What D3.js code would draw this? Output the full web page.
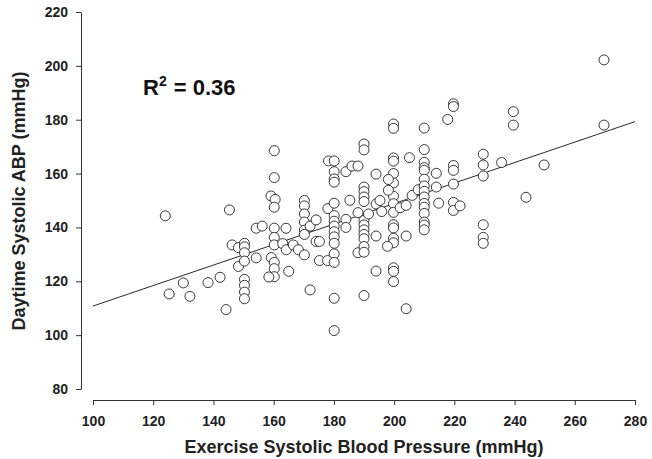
<!DOCTYPE html>
<html>
<head>
<meta charset="utf-8">
<script src="https://cdn.jsdelivr.net/npm/d3@7"></script>
<style>
  body { margin: 0; background: #fff; }
  svg { display: block; }
  .axis text { font-family: 'Liberation Sans', Arial, sans-serif; font-weight: bold; font-size: 14px; fill: #222; }
  .axis path, .axis line { stroke: #333; stroke-width: 1; }
</style>
</head>
<body>
<div id="chart"></div>
<script>
// exercise SBP (x) and daytime systolic ABP (y)
const exerciseSBP = [
  124, 125.3, 130, 132.2, 138.2, 142.2, 144.2, 145.3, 146.2, 148.3, 148.3,
  150.3, 150.3, 150.3, 150.3, 150.3, 150.3, 150.3, 150.3,
  154.2, 156.2, 154.2, 159.1, 160.5, 160.2, 160.2, 160.2, 160.2, 160.2, 160.2,
  159.2, 160.2, 160.2, 160.2, 158.4,
  163, 164.1, 164.2, 166.5, 168.2, 165,
  170.2, 170.2, 170.2, 170.2, 170.2, 170.2, 170.2,
  172.1, 174.1, 172.1, 174.1, 175.2, 175.2, 177.9, 178.2, 178,
  180.1, 180.1, 180.1, 180.1, 180.1, 180.1, 180.1, 180.1, 180.1, 180.1, 180.1,
  180.1, 180.1, 180.1, 180.1,
  184, 186, 188, 184, 184, 185.3, 188, 188,
  190, 190, 190, 190, 190, 190, 190, 190, 190, 190, 190, 190, 190, 190,
  191.5, 194, 194, 195.3, 195.9, 194, 194,
  199.8, 199.8, 199.8, 199.8, 199.8, 199.8, 199.8, 199.8, 199.8, 199.8, 199.8,
  199.8, 199.8, 199.8, 199.8, 199.8,
  198.1, 198.1, 197.8,
  202, 204, 205.1, 204, 204, 206, 208,
  210, 210, 210, 210, 210, 210, 210, 210, 210, 210, 210, 210, 210, 210, 210,
  214, 214, 214.8, 219.7, 219.7, 219.7, 219.7, 219.7, 221.9, 219.7, 219.7, 217.8,
  229.6, 229.6, 229.6, 229.6, 229.6, 229.6,
  235.7, 239.6, 239.6, 243.8, 249.8, 269.7, 269.7
]
const daytimeSBP = [
  144.3, 115.3, 119.4, 114.4, 119.5, 121.5, 109.5, 146.5, 133.5, 132.5, 125.5,
  134.1, 132.8, 130.6, 127.5, 120.7, 118.5, 116, 113.5,
  139.7, 140.5, 128.7, 151.7, 150.4, 147.5, 168.5, 158.5, 139.7, 136.3, 133.5,
  128.8, 127, 124.7, 121.7, 121.6,
  134, 139.7, 131.7, 133.5, 131.7, 123.7,
  150, 148, 145, 142, 139, 137.4, 129.8,
  140.5, 142.8, 116.8, 134.8, 134.8, 127.7, 127.7, 164.7, 147,
  164.7, 160.7, 158, 156.8, 149, 144.4, 142.3, 140.5, 138.4, 136.5, 134.1,
  130.2, 127, 113.7, 101.7,
  160.7, 162.8, 162.8, 143, 140, 150.1, 145.5, 130.6,
  171, 168.8, 155, 153.3, 151.3, 149.6, 142.6, 140.9, 139.1, 137.4, 135.8, 132.9, 130.8, 114.7,
  145, 159.8, 148.7, 150, 145.9, 136.8, 123.8,
  178.4, 176.8, 165.8, 164.6, 160, 156.5, 151.6, 148.8, 145.6, 141, 139.8,
  136, 134.3, 125, 123.7, 119.9,
  157.8, 153.8, 133,
  147.3, 148.2, 165.9, 136.8, 109.8, 151.9, 154,
  176.9, 168.9, 164.2, 162.2, 161.2, 157.9, 155.4, 153.4, 151.3, 148.9, 147.5, 145.2, 142, 140.9, 139.1,
  160.1, 155, 149, 163, 161.2, 156.1, 149.3, 146.3, 148, 185.9, 184.9, 180.1,
  167.2, 163.2, 159.1, 141, 136.3, 134.1,
  164.1, 183, 178, 151.2, 163.2, 202.2, 178
]

// regression line end points
const fitX = [100, 280]
const fitY = [110.8, 179.3]

const xTicks = [100, 120, 140, 160, 180, 200, 220, 240, 260, 280]
const yTicks = [80, 100, 120, 140, 160, 180, 200, 220]

const width = 652
const height = 459

const x = d3.scaleLinear().domain([100, 280]).range([93, 635])
const y = d3.scaleLinear().domain([80, 220]).range([389, 12])

const svg = d3.select('#chart')
  .append('svg')
  .attr('width', width)
  .attr('height', height)

// axes (offset like SigmaPlot)
svg.append('g')
  .attr('class', 'axis')
  .attr('transform', 'translate(0,400)')
  .call(d3.axisBottom(x).tickValues(xTicks).tickSize(5).tickSizeOuter(0).tickPadding(11))

svg.append('g')
  .attr('class', 'axis')
  .attr('transform', 'translate(81,0)')
  .call(d3.axisLeft(y).tickValues(yTicks).tickSize(5).tickSizeOuter(0).tickPadding(8))

// fitted line
svg.append('line')
  .attr('x1', x(fitX[0]))
  .attr('y1', y(fitY[0]))
  .attr('x2', x(fitX[1]))
  .attr('y2', y(fitY[1]))
  .attr('stroke', '#111')
  .attr('stroke-width', 0.9)

const points = exerciseSBP.map((d, i) => ({ ex: d, day: daytimeSBP[i] }))

svg.selectAll('.dot')
  .data(points)
  .enter()
  .append('circle')
  .attr('class', 'dot')
  .attr('cx', d => x(d.ex))
  .attr('cy', d => y(d.day))
  .attr('r', 5)
  .attr('fill', '#fff')
  .attr('stroke', '#222')
  .attr('stroke-width', 0.9)

// R squared
const r2 = svg.append('text')
  .attr('x', 143)
  .attr('y', 95)
  .attr('font-family', "'Liberation Sans', Arial, sans-serif")
  .attr('font-weight', 'bold')
  .attr('font-size', 22)
  .attr('fill', '#111')
  .attr('xml:space', 'preserve')
  .style('white-space', 'pre')
r2.append('tspan').text('R')
r2.append('tspan').attr('font-size', 14).attr('dy', -9).text('2')
r2.append('tspan').attr('dy', 9).attr('dx', 7).text('= 0.36')

// axis titles
svg.append('text')
  .attr('x', 364)
  .attr('y', 453)
  .attr('text-anchor', 'middle')
  .attr('font-family', "'Liberation Sans', Arial, sans-serif")
  .attr('font-weight', 'bold')
  .attr('font-size', 18)
  .attr('fill', '#222')
  .text('Exercise Systolic Blood Pressure (mmHg)')

svg.append('text')
  .attr('transform', 'translate(25,201) rotate(-90)')
  .attr('text-anchor', 'middle')
  .attr('font-family', "'Liberation Sans', Arial, sans-serif")
  .attr('font-weight', 'bold')
  .attr('font-size', 18)
  .attr('fill', '#222')
  .text('Daytime Systolic ABP (mmHg)')
</script>
</body>
</html>
